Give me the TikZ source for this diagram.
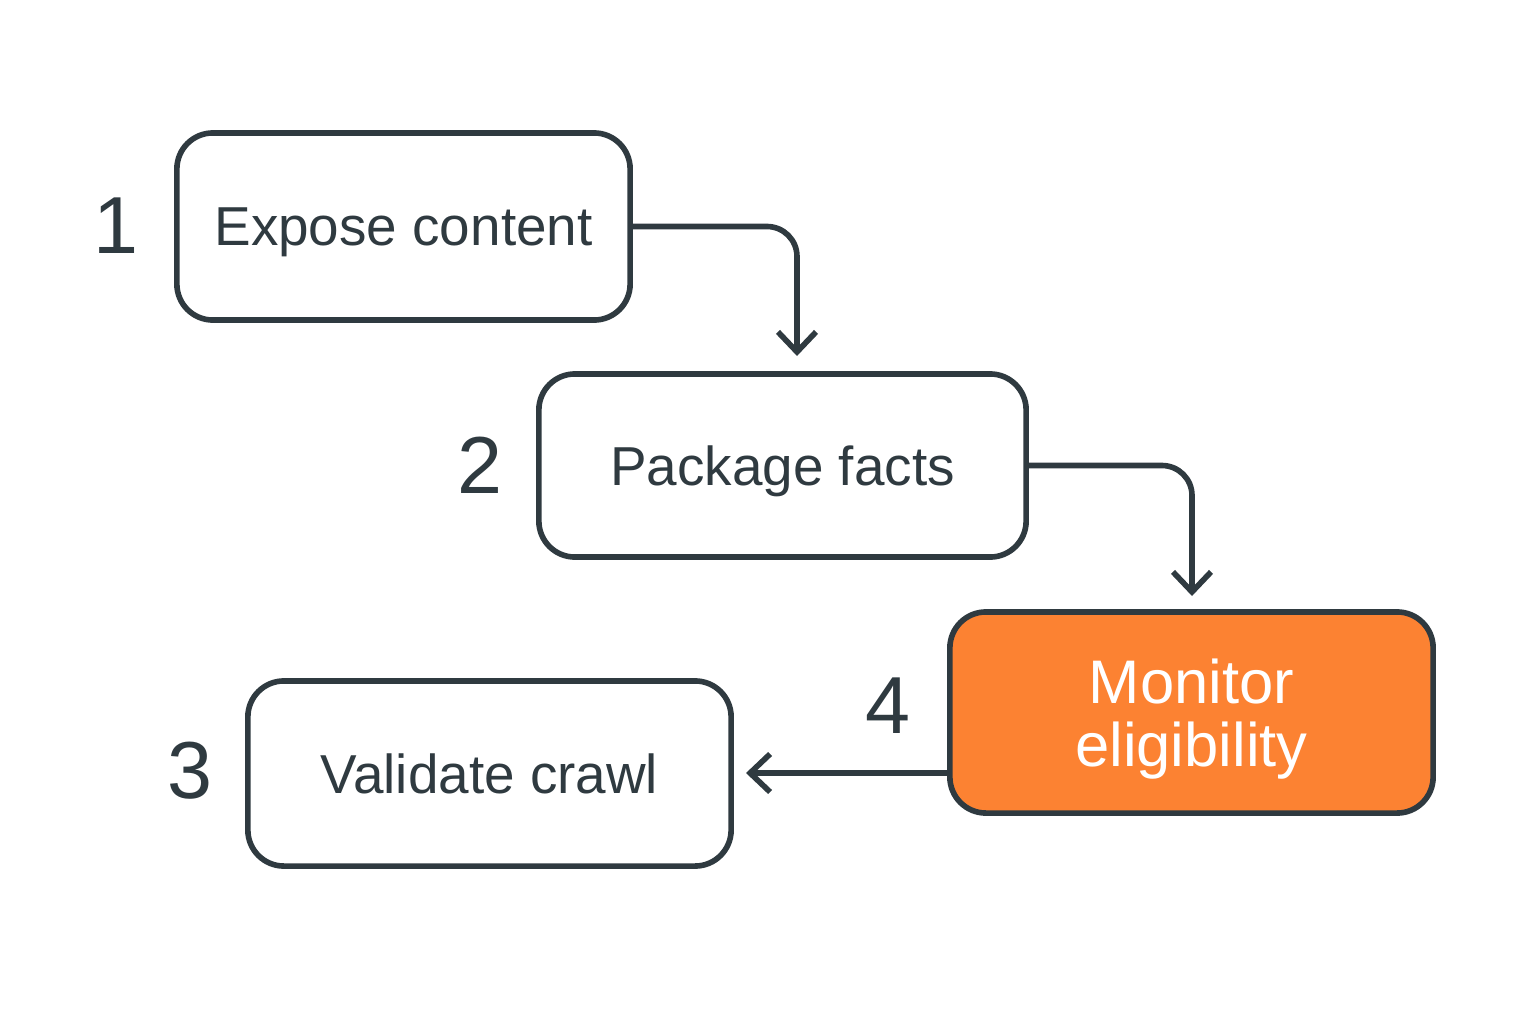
\documentclass[tikz,border=0pt]{standalone}
\usepackage{fontspec}
\setmainfont{Liberation Sans}
\usetikzlibrary{arrows.meta}
\definecolor{ink}{HTML}{2F3A40}
\definecolor{flame}{HTML}{FC8232}
\tikzset{
  stepbox/.style={draw=ink,line width=1.6pt,rounded corners=0.36cm,text=ink,
    font=\fontsize{15.6}{18}\selectfont,align=center,text depth=0pt},
  hotbox/.style={stepbox,fill=flame,text=white,font=\fontsize{17.5}{18}\selectfont},
  num/.style={text=ink,font=\fontsize{23}{26}\selectfont},
  conn/.style={draw=ink,line width=1.6pt,rounded corners=0.3cm,line cap=round,
    -{Straight Barb[length=0.2cm,width=0.38cm,line width=1.6pt]}}
}
\begin{document}
\begin{tikzpicture}[x=0.01cm,y=-0.01cm]
\useasboundingbox (0,0) rectangle (1536,1024);
% steps
\node[stepbox,minimum width=4.53cm,minimum height=1.87cm] (b1) at (403.5,226.5) {Expose content};
\node[stepbox,minimum width=4.87cm,minimum height=1.83cm] (b2) at (782.5,465.5) {Package facts};
\node[stepbox,minimum width=4.83cm,minimum height=1.85cm] (b3) at (489.5,773.5) {Validate crawl};
\node[hotbox,minimum width=4.83cm,minimum height=2.01cm] (b4) at (1191.5,712.5) {Monitor\\eligibility};
% numbers
\node[num] (n1) at (116,226) {1};
\node[num] (n2) at (480,465) {2};
\node[num] (n3) at (190,771) {3};
\node[num] (n4) at (888,706) {4};
% arrows
\coordinate (t2) at (797,356);
\coordinate (t4) at (1192,596);
\coordinate (t3) at (746,773);
\draw[conn] (b1.east) -| (t2);
\draw[conn] (b2.east) -| (t4);
\draw[conn] (b4.west |- t3) -- (t3);
\end{tikzpicture}
\end{document}
